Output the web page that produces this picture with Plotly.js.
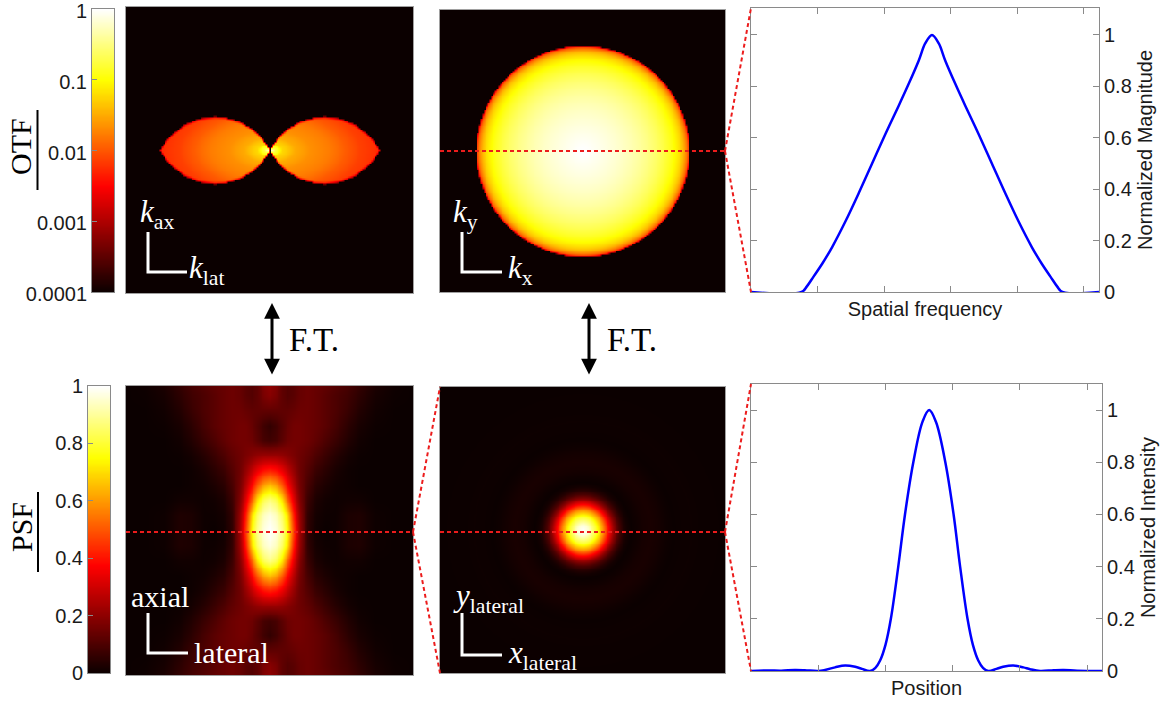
<!DOCTYPE html>
<html><head><meta charset="utf-8">
<script src="https://cdn.plot.ly/plotly-3.0.1.min.js"></script>
<style>html,body{margin:0;padding:0;background:#fff;}#chart{width:1163px;height:704px;}</style>
</head><body><div id="chart"></div>
<script>
// ---------------- data ----------------
// OTF lateral profile (top-right plot)
const otfPos = [0, 0.76, 0.84, 0.94, 1.07, 1.22, 1.42, 1.62, 1.82, 2.02, 2.22, 2.37, 2.52, 2.62, 2.72, 2.82, 2.92, 3.07, 3.22, 3.42, 3.62, 3.82, 4.02, 4.22, 4.37, 4.5, 4.6, 4.68, 5.23];
const otfMag = [0, 0, 0.022, 0.06, 0.11, 0.175, 0.275, 0.385, 0.5, 0.615, 0.725, 0.81, 0.9, 0.968, 1, 0.968, 0.9, 0.81, 0.725, 0.615, 0.5, 0.385, 0.275, 0.175, 0.11, 0.06, 0.022, 0, 0];
// PSF lateral profile (bottom-right plot)
const psfPos = [0, 0.25, 0.45, 0.65, 0.8, 1.0, 1.1, 1.25, 1.4, 1.55, 1.65, 1.77, 1.85, 1.92, 2.0, 2.08, 2.19, 2.29, 2.414, 2.55, 2.65, 2.75, 2.89, 3.013, 3.11, 3.22, 3.3, 3.38, 3.45, 3.53, 3.65, 3.75, 3.9, 4.05, 4.15, 4.3, 4.5, 4.65, 4.85, 5.22];
const psfInt = [0, 0.002, 0.001, 0.004, 0.003, 0, 0.004, 0.014, 0.021, 0.016, 0.008, 0, 0.012, 0.04, 0.1, 0.2, 0.4, 0.6, 0.8, 0.955, 1, 0.955, 0.8, 0.6, 0.4, 0.2, 0.1, 0.04, 0.012, 0, 0.008, 0.016, 0.021, 0.014, 0.007, 0, 0.003, 0.004, 0.001, 0];
// OTF side view (k_lat, k_ax): lobe support half-height vs lateral distance, magnitude vs distance from origin
const lobeLat        = [0, 0.021, 0.042, 0.084, 0.132, 0.209, 0.314, 0.383, 0.488, 0.592, 0.697, 0.739, 0.767];
const lobeHalfHeight = [0, 0.037, 0.068, 0.115, 0.157, 0.201, 0.233, 0.239, 0.225, 0.184, 0.101, 0.048, 0];
const lobeRadius = [0, 0.014, 0.035, 0.084, 0.174, 0.279, 0.411, 0.523, 0.627, 0.767, 0.906];
const lobeValue  = [1, 0.5, 0.18, 0.06, 0.032, 0.022, 0.017, 0.011, 0.0075, 0.0055, 0.0045];
// PSF side view (lateral, axial): quarter grid of intensities
const sideLateral = [0, 0.042, 0.084, 0.125, 0.167, 0.209, 0.265, 0.321, 0.39, 0.46, 0.544, 0.627, 0.732, 0.871, 1.0];
const sideAxial   = [0, 0.104, 0.208, 0.311, 0.415, 0.519, 0.623, 0.727, 0.83, 0.934, 1.0];
const sideGrid = [
  [1.00, 0.97, 0.90, 0.75, 0.46, 0.22, 0.05, 0.01, 0.00, 0.005, 0.025, 0.03, 0.005, 0, 0],
  [0.97, 0.94, 0.86, 0.70, 0.41, 0.21, 0.055, 0.015, 0.005, 0.005, 0.025, 0.03, 0.005, 0, 0],
  [0.88, 0.84, 0.73, 0.52, 0.33, 0.18, 0.07, 0.025, 0.01, 0.005, 0.01, 0.01, 0, 0, 0],
  [0.66, 0.62, 0.52, 0.38, 0.26, 0.16, 0.09, 0.045, 0.025, 0.01, 0.005, 0, 0, 0, 0],
  [0.42, 0.40, 0.35, 0.28, 0.21, 0.15, 0.11, 0.07, 0.045, 0.02, 0.005, 0, 0, 0, 0],
  [0.22, 0.22, 0.21, 0.19, 0.17, 0.15, 0.13, 0.10, 0.07, 0.04, 0.015, 0.003, 0, 0, 0],
  [0.08, 0.09, 0.12, 0.15, 0.16, 0.16, 0.15, 0.13, 0.10, 0.07, 0.035, 0.01, 0, 0, 0],
  [0.06, 0.08, 0.11, 0.14, 0.16, 0.16, 0.15, 0.14, 0.12, 0.09, 0.05, 0.02, 0.004, 0, 0],
  [0.13, 0.13, 0.13, 0.13, 0.14, 0.15, 0.15, 0.14, 0.12, 0.10, 0.07, 0.035, 0.01, 0, 0],
  [0.19, 0.17, 0.13, 0.11, 0.12, 0.14, 0.15, 0.14, 0.12, 0.10, 0.08, 0.05, 0.018, 0.003, 0],
  [0.20, 0.18, 0.13, 0.11, 0.12, 0.14, 0.15, 0.14, 0.13, 0.11, 0.09, 0.06, 0.025, 0.005, 0]
];
// colour bar / axis ticks
const otfBarTicks = [-4, -3, -2, -1, 0];
const otfBarText  = ['0.0001', '0.001', '0.01', '0.1', '1'];
const psfBarTicks = [0, 0.2, 0.4, 0.6, 0.8, 1];
const lineYTicks  = [0, 0.2, 0.4, 0.6, 0.8, 1];
const lineXTicks  = [1, 2, 3, 4, 5];

// ---------------- helpers ----------------
const W = 1163, H = 704;
const px = x => x / W, py = y => 1 - y / H;
const dx = (a, b) => [a / W, b / W], dy = (t, b) => [1 - b / H, 1 - t / H];
function lin(a, b, n) { const o = []; for (let i = 0; i < n; i++) o.push(a + (b - a) * i / (n - 1)); return o; }
function interp(xs, ys, x) {
  const n = xs.length;
  if (x <= xs[0]) return ys[0];
  if (x >= xs[n - 1]) return ys[n - 1];
  let i = 1; while (xs[i] < x) i++;
  const t = (x - xs[i - 1]) / (xs[i] - xs[i - 1]);
  return ys[i - 1] + t * (ys[i] - ys[i - 1]);
}
function locate(xs, x) {
  const n = xs.length;
  if (x >= xs[n - 1]) return [n - 2, 1];
  let i = 1; while (xs[i] < x) i++;
  return [i - 1, (x - xs[i - 1]) / (xs[i] - xs[i - 1])];
}
function bilinear(xs, ys, g, x, y) {
  const [i, tx] = locate(xs, x), [j, ty] = locate(ys, y);
  const a = g[j][i] * (1 - tx) + g[j][i + 1] * tx;
  const b = g[j + 1][i] * (1 - tx) + g[j + 1][i + 1] * tx;
  return a * (1 - ty) + b * ty;
}
function radial(pos, val, r) {
  let k = 0; for (let i = 1; i < val.length; i++) if (val[i] > val[k]) k = i;
  const pk = pos[k];
  return 0.5 * (interp(pos, val, pk - r) + interp(pos, val, pk + r));
}
const hot = [[0, 'rgb(11,0,0)'], [0.375, 'rgb(255,0,0)'], [0.75, 'rgb(255,255,0)'], [1, 'rgb(255,255,255)']];
const N = 161;

// top-left: OTF side view (log)
const gTL = lin(-1, 1, N);
const zTL = gTL.map(y => gTL.map(x => {
  const d = Math.abs(x), ay = Math.abs(y);
  const h = d < lobeLat[lobeLat.length - 1] ? interp(lobeLat, lobeHalfHeight, d) : 0;
  let v = 0;
  if (ay < h) {
    const rho = Math.sqrt(x * x + 4 * y * y);
    v = interp(lobeRadius, lobeValue, rho) * Math.min(1, (h - ay) / 0.02);
  }
  return Math.log10(Math.max(v, 1e-4));
}));
// top-middle: OTF lateral plane (log), radially from the profile
const hwO = otfPos[otfPos.length - 1] / 2;
const gTM = lin(-hwO, hwO, N);
const zTM = gTM.map(y => gTM.map(x => Math.log10(Math.max(radial(otfPos, otfMag, Math.hypot(x, y)), 1e-4))));
// bottom-left: PSF side view
const gBL = lin(-1, 1, N);
const zBL = gBL.map(y => gBL.map(x => bilinear(sideLateral, sideAxial, sideGrid, Math.abs(x), Math.abs(y))));
// bottom-middle: PSF lateral plane
const hwP = psfPos[psfPos.length - 1] / 2;
const gBM = lin(-hwP, hwP, N);
const zBM = gBM.map(y => gBM.map(x => radial(psfPos, psfInt, Math.hypot(x, y))));
// colour ramps
const rampO = lin(otfBarTicks[0], otfBarTicks[otfBarTicks.length - 1], 121);
const rampP = lin(psfBarTicks[0], psfBarTicks[psfBarTicks.length - 1], 121);

const hm = (x, y, z, zmin, zmax, xa, ya) => ({type: 'heatmap', x, y, z, zmin, zmax, colorscale: hot, showscale: false, zsmooth: 'best', xaxis: xa, yaxis: ya, hoverinfo: 'skip'});
const data = [
  hm(gTL, gTL, zTL, -4, 0, 'x', 'y'),
  hm(gTM, gTM, zTM, -4, 0, 'x2', 'y2'),
  hm(gBL, gBL, zBL, 0, 1, 'x4', 'y4'),
  hm(gBM, gBM, zBM, 0, 1, 'x5', 'y5'),
  hm([0, 1], rampO, rampO.map(v => [v, v]), -4, 0, 'x7', 'y7'),
  hm([0, 1], rampP, rampP.map(v => [v, v]), 0, 1, 'x8', 'y8'),
  {type: 'scatter', mode: 'lines', x: otfPos, y: otfMag, line: {color: '#0000ff', width: 2.5, shape: 'spline', smoothing: 1}, xaxis: 'x3', yaxis: 'y3', hoverinfo: 'skip'},
  {type: 'scatter', mode: 'lines', x: psfPos, y: psfInt, line: {color: '#0000ff', width: 2.5, shape: 'spline', smoothing: 1}, xaxis: 'x6', yaxis: 'y6', hoverinfo: 'skip'}
];

const sans = 'Liberation Sans, Arial, sans-serif';
const serif = 'Liberation Serif, Times New Roman, serif';
const tickF = {family: sans, size: 20, color: '#1a1a1a'};
const gray = '#8a8a8a';
function imgAx(d, r, anchor) {
  return {domain: d, range: r, anchor, showticklabels: false, ticks: '', showgrid: false, zeroline: false,
          showline: true, mirror: true, linecolor: '#a0a0a0', linewidth: 1, fixedrange: true};
}
function lineX(d, r, anchor, title) {
  return {domain: d, range: r, anchor, tickvals: lineXTicks, showticklabels: false, ticks: 'inside', ticklen: 6,
          tickcolor: gray, showline: true, mirror: 'ticks', linecolor: gray, linewidth: 1, showgrid: false, zeroline: false,
          automargin: false, title: {text: title, font: tickF, standoff: 9}};
}
function lineY(d, r, anchor, title) {
  return {domain: d, range: r, anchor, side: 'right', tickvals: lineYTicks, ticks: 'inside', ticklen: 6, tickcolor: gray,
          tickfont: tickF, showline: true, mirror: 'ticks', linecolor: gray, linewidth: 1, showgrid: false, zeroline: false,
          automargin: false, title: {text: title, font: tickF, standoff: 7}};
}
function barY(d, r, anchor, vals, text, shift) {
  const o = {domain: d, range: r, anchor, side: 'left', tickvals: vals, ticks: 'inside', ticklen: 5, tickcolor: gray,
             tickfont: tickF, showline: true, mirror: true, linecolor: gray, linewidth: 1, showgrid: false, zeroline: false,
             automargin: false, ticklabeloverflow: 'allow', ticklabelshift: shift};
  if (text) o.ticktext = text;
  return o;
}
const barX = (d, anchor) => ({domain: d, range: [0, 1], anchor, showticklabels: false, ticks: '', showgrid: false, zeroline: false,
                              showline: true, mirror: true, linecolor: gray, linewidth: 1});

const layout = {
  width: W, height: H, margin: {l: 0, r: 0, t: 0, b: 0}, paper_bgcolor: '#fff', plot_bgcolor: 'rgba(0,0,0,0)', showlegend: false,
  xaxis: imgAx(dx(126, 413), [-1, 1], 'y'), yaxis: imgAx(dy(7, 293), [-1, 1], 'x'),
  xaxis2: imgAx(dx(440, 725), [-hwO, hwO], 'y2'), yaxis2: imgAx(dy(10, 292), [-hwO, hwO], 'x2'),
  xaxis3: lineX(dx(751, 1099), [0, 5.23], 'y3', 'Spatial frequency'), yaxis3: lineY(dy(8, 292), [0, 1.105], 'x3', 'Normalized Magnitude'),
  xaxis4: imgAx(dx(126, 413), [-1, 1], 'y4'), yaxis4: imgAx(dy(386, 675), [-1, 1], 'x4'),
  xaxis5: imgAx(dx(440, 725), [-hwP, hwP], 'y5'), yaxis5: imgAx(dy(387, 673), [-hwP, hwP], 'x5'),
  xaxis6: lineX(dx(751, 1102), [0, 5.22], 'y6', 'Position'), yaxis6: lineY(dy(384, 671), [0, 1.10], 'x6', 'Normalized Intensity'),
  xaxis7: barX(dx(92, 114), 'y7'), yaxis7: barY(dy(9, 292), [-4, 0], 'x7', otfBarTicks, otfBarText, 2),
  xaxis8: barX(dx(88, 110), 'y8'), yaxis8: barY(dy(386, 673), [0, 1], 'x8', psfBarTicks, null, 0),
  shapes: [], annotations: []
};

const red = 'rgb(236,28,28)';
function seg(x0, y0, x1, y1, color, width, dash) {
  return {type: 'line', xref: 'paper', yref: 'paper', x0: px(x0), y0: py(y0), x1: px(x1), y1: py(y1), line: {color, width, dash: dash || 'solid'}};
}
function ell(x0, y0, x1, y1, x2, y2) {
  return {type: 'path', xref: 'paper', yref: 'paper', path: `M${px(x0)},${py(y0)} L${px(x1)},${py(y1)} L${px(x2)},${py(y2)}`,
          line: {color: '#fff', width: 3}};
}
const rd = '4px,3px';
layout.shapes.push(
  seg(440, 151, 725, 151, red, 2, rd), seg(725, 151, 751, 8, red, 2, rd), seg(725, 151, 751, 292, red, 2, rd),
  seg(126, 532, 413, 532, red, 2, rd), seg(413, 532, 440, 387, red, 2, rd), seg(413, 532, 440, 673, red, 2, rd),
  seg(440, 532, 725, 532, red, 2, rd), seg(725, 532, 751, 384, red, 2, rd), seg(725, 532, 751, 671, red, 2, rd),
  seg(37.5, 110, 37.5, 190, '#000', 2), seg(38, 492, 38, 572, '#000', 2),
  ell(148, 232, 148, 272, 187, 272), ell(462, 232, 462, 272, 502, 272),
  ell(148, 613, 148, 653, 188, 653), ell(462, 613, 462, 655, 502, 655)
);
function txt(text, x, y, size, color, opts) {
  return Object.assign({text, x: px(x), y: py(y), xref: 'paper', yref: 'paper', showarrow: false, xanchor: 'left', yanchor: 'middle',
                        font: {family: serif, size, color}}, opts || {});
}
function arrow(x, y0, y1) {
  return {text: '', x: px(x), y: py(y0), xref: 'paper', yref: 'paper', ax: 0, ay: y1 - y0, showarrow: true,
          arrowhead: 2, startarrowhead: 2, arrowside: 'end+start', arrowsize: 1.05, startarrowsize: 1.05,
          arrowwidth: 3, arrowcolor: '#000', standoff: 0, startstandoff: 0};
}
layout.annotations.push(
  txt('OTF', 21, 147, 30, '#000', {textangle: -90, xanchor: 'center'}),
  txt('PSF', 21, 527, 30, '#000', {textangle: -90, xanchor: 'center'}),
  txt('F.T.', 287, 340, 33, '#000'), txt('F.T.', 605, 340, 33, '#000'),
  arrow(272, 303, 376), arrow(589, 303, 376),
  txt('<i>k</i><sub>ax</sub>', 138, 214, 31, '#fff'),
  txt('<i>k</i><sub>lat</sub>', 187, 270, 31, '#fff'),
  txt('<i>k</i><sub>y</sub>', 451, 214, 31, '#fff'),
  txt('<i>k</i><sub>x</sub>', 506, 270, 31, '#fff'),
  txt('axial', 129, 596, 30, '#fff'),
  txt('lateral', 192, 652, 30, '#fff'),
  txt('<i>y</i><sub>lateral</sub>', 451, 598, 31, '#fff'),
  txt('<i>x</i><sub>lateral</sub>', 506, 655, 31, '#fff')
);

Plotly.newPlot('chart', data, layout, {staticPlot: true, displayModeBar: false});
</script></body></html>
